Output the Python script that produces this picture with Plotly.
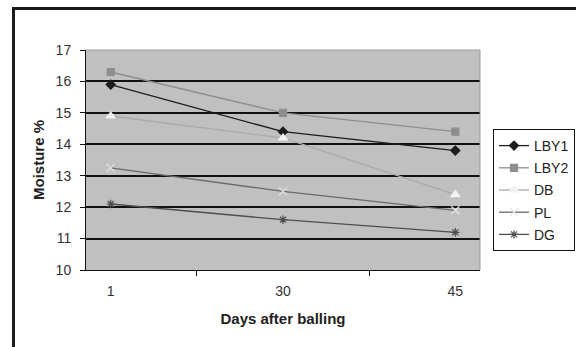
import plotly.graph_objects as go

# Moisture content of pellet balls over time
days = ["1", "30", "45"]
series_names = ["LBY1", "LBY2", "DB", "PL", "DG"]
lby1 = [15.9, 14.4, 13.8]
lby2 = [16.3, 15.0, 14.4]
db = [14.9, 14.2, 12.4]
pl = [13.25, 12.5, 11.9]
dg = [12.1, 11.6, 11.2]
y_ticks = [10, 11, 12, 13, 14, 15, 16, 17]

values = [lby1, lby2, db, pl, dg]
line_colors = ["#1c1c1c", "#8e8e8e", "#aaaaaa", "#6a6a6a", "#4e4e4e"]
marker_colors = ["#1c1c1c", "#8e8e8e", "#f2f2f2", "#e6e6e6", "#4e4e4e"]
marker_symbols = ["diamond", "square", "triangle-up", "x-thin", "asterisk"]
marker_sizes = [7, 7, 8, 8, 7]

FONT = "Liberation Sans, Arial, sans-serif"

fig = go.Figure()
for i, (name, vals) in enumerate(zip(series_names, values)):
    fig.add_trace(go.Scatter(
        x=days, y=vals, name=name, mode="lines+markers",
        legendgroup=name,
        line=dict(color=line_colors[i], width=1.3),
        marker=dict(symbol=marker_symbols[i], size=marker_sizes[i],
                    color=marker_colors[i],
                    line=dict(color=marker_colors[i], width=1.2)),
    ))

W, H = 576, 347
L, R, T, B = 86, 96, 50, 77
pw, ph = W - L - R, H - T - B


def px(x):
    return (x - L) / pw


def py(y):
    return (H - B - y) / ph


fig.update_layout(
    width=W, height=H,
    margin=dict(l=L, r=R, t=T, b=B, autoexpand=False),
    paper_bgcolor="white",
    plot_bgcolor="#c0c0c0",
    font=dict(family=FONT, size=14, color="#333333"),
    showlegend=True,
    legend=dict(
        x=px(493), y=py(129), xanchor="left", yanchor="top",
        bordercolor="#111111", borderwidth=1, bgcolor="white",
        font=dict(family=FONT, size=14, color="#222222"),
        traceorder="grouped", tracegroupgap=1, itemwidth=30,
    ),
    xaxis=dict(
        type="category", tickson="boundaries", ticks="outside",
        ticklen=5, tickcolor="#111111", showline=True, linecolor="#111111",
        linewidth=1, showgrid=False, ticklabelstandoff=8,
        tickfont=dict(color="#333333"),
        title=dict(text="<b>Days after balling</b>", standoff=15,
                   font=dict(family=FONT, size=15, color="#222222")),
    ),
    yaxis=dict(
        range=[10, 17], tickvals=y_ticks, ticks="outside", ticklen=5,
        tickcolor="#111111", showline=True, linecolor="#111111", linewidth=1,
        showgrid=True, gridcolor="#111111", gridwidth=1.5,
        zeroline=False, ticklabelstandoff=6,
        title=dict(text="<b>Moisture %</b>", standoff=7,
                   font=dict(family=FONT, size=15, color="#222222")),
    ),
    shapes=[
        # outer chart frame
        dict(type="rect", xref="paper", yref="paper",
             x0=px(13.5), x1=px(600), y0=py(370), y1=py(8.5),
             line=dict(color="#1a1a1a", width=3), layer="below"),
        # light border on top and right of the plot area
        dict(type="line", xref="paper", yref="paper", x0=0, x1=1, y0=1, y1=1,
             line=dict(color="#9a9a9a", width=1)),
        dict(type="line", xref="paper", yref="paper", x0=1, x1=1, y0=0, y1=1,
             line=dict(color="#9a9a9a", width=1)),
    ],
)

fig.write_html("out.html")
